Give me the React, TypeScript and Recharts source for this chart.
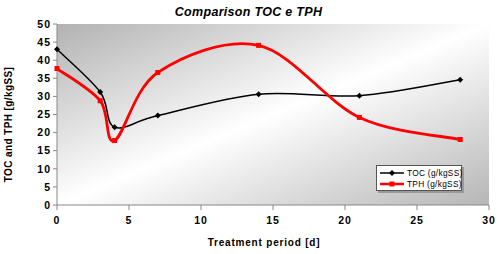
import { LineChart, Line, XAxis, YAxis, CartesianGrid, Legend, Label } from 'recharts'

const days = [0, 3, 4, 7, 14, 21, 28]
const toc = [43, 31.2, 21.5, 24.7, 30.6, 30.2, 34.6]
const tph = [37.7, 28.8, 17.8, 36.6, 44.1, 24.2, 18.1]
const xTicks = [0, 5, 10, 15, 20, 25, 30]
const yTicks = [0, 5, 10, 15, 20, 25, 30, 35, 40, 45, 50]

const data = days.map((d, i) => ({ d, toc: toc[i], tph: tph[i] }))

// Excel-like smoothing (uniform Catmull-Rom as bezier segments)
function excelSmooth(context: any) {
  let pts: number[][] = []
  return {
    areaStart() {},
    areaEnd() {},
    lineStart() {
      pts = []
    },
    point(x: number, y: number) {
      pts.push([+x, +y])
    },
    lineEnd() {
      if (!pts.length) return
      context.moveTo(pts[0][0], pts[0][1])
      for (let i = 0; i < pts.length - 1; i++) {
        const p0 = pts[i - 1] || pts[i]
        const p1 = pts[i]
        const p2 = pts[i + 1]
        const p3 = pts[i + 2] || p2
        context.bezierCurveTo(
          p1[0] + (p2[0] - p0[0]) / 6,
          p1[1] + (p2[1] - p0[1]) / 6,
          p2[0] - (p3[0] - p1[0]) / 6,
          p2[1] - (p3[1] - p1[1]) / 6,
          p2[0],
          p2[1]
        )
      }
    },
  }
}

const tickStyle = { fontFamily: 'Liberation Sans, Arial, sans-serif', fontSize: 10.5, fontWeight: 700, fill: '#000', letterSpacing: 1 }

const Diamond = (props: any) => {
  const { cx, cy, index } = props
  if (cx == null || cy == null) return null
  return <polygon key={index} points={`${cx},${cy - 3} ${cx + 3},${cy} ${cx},${cy + 3} ${cx - 3},${cy}`} fill="#000" />
}

const Square = (props: any) => {
  const { cx, cy, index } = props
  if (cx == null || cy == null) return null
  return <rect key={index} x={cx - 2.5} y={cy - 2.5} width={5} height={5} fill="#ff0000" />
}

function LegendBox() {
  const row = (label: string, color: string, w: number, marker: 'd' | 's') => (
    <div style={{ display: 'flex', alignItems: 'center', height: 11.5, whiteSpace: 'nowrap' }}>
      <svg width={26} height={8} style={{ flex: 'none' }}>
        <line x1={1} y1={4} x2={25} y2={4} stroke={color} strokeWidth={w} />
        {marker === 'd' ? (
          <polygon points="13,1 16,4 13,7 10,4" fill={color} />
        ) : (
          <rect x={10.5} y={1.5} width={5} height={5} fill={color} />
        )}
      </svg>
      <span style={{ marginLeft: 2, letterSpacing: 0.3, whiteSpace: 'nowrap' }}>{label}</span>
    </div>
  )
  return (
    <div
      style={{
        width: 86,
        height: 26,
        boxSizing: 'border-box',
        border: '1px solid #555',
        background: '#fff',
        boxShadow: '2px 2px 0 #9a9a9a',
        padding: '1px 0 0 2px',
        fontFamily: 'Liberation Sans, Arial, sans-serif',
        fontSize: 8.3,
        lineHeight: '10px',
        color: '#000',
        textAlign: 'left',
      }}
    >
      {row('TOC (g/kgSS)', '#000', 1.5, 'd')}
      {row('TPH (g/kgSS)', '#ff0000', 2.5, 's')}
    </div>
  )
}

export default function App() {
  return (
    <div style={{ position: 'absolute', left: 0, top: 0, width: 500, height: 254, background: '#fff' }}>
      <div
        style={{
          position: 'absolute',
          left: 0,
          top: 5,
          width: 497,
          textAlign: 'center',
          fontFamily: 'Liberation Sans, Arial, sans-serif',
          fontSize: 12.5,
          fontWeight: 700,
          fontStyle: 'italic',
          letterSpacing: 0.3,
        }}
      >
        Comparison TOC e TPH
      </div>
      <LineChart width={500} height={254} data={data} margin={{ top: 24, right: 11, left: 0, bottom: 0 }}>
        <defs>
          <linearGradient id="plotBg" x1="0" y1="0" x2="1" y2="1">
            <stop offset="0" stopColor="#b2b2b2" />
            <stop offset="0.5" stopColor="#ffffff" />
            <stop offset="1" stopColor="#b6b6b6" />
          </linearGradient>
        </defs>
        <CartesianGrid horizontal={false} vertical={false} fill="url(#plotBg)" stroke="none" />
        <XAxis
          dataKey="d"
          type="number"
          domain={[0, 30]}
          ticks={xTicks}
          height={49}
          stroke="#888"
          tickSize={5}
          tickMargin={7}
          tick={tickStyle}
          interval={0}
        >
          <Label
            value="Treatment period [d]"
            position="insideBottom"
            offset={8}
            dx={-9}
            style={{ fontFamily: 'Liberation Sans, Arial, sans-serif', fontSize: 10, fontWeight: 700, fill: '#000', letterSpacing: 0.8 }}
          />
        </XAxis>
        <YAxis
          type="number"
          domain={[0, 50]}
          ticks={yTicks}
          width={57}
          stroke="#888"
          tickSize={4}
          tickMargin={2}
          tick={tickStyle}
          interval={0}
        >
          <Label
            value="TOC and TPH [g/kgSS]"
            angle={-90}
            position="insideLeft"
            offset={8}
            dy={10}
            style={{ textAnchor: 'middle', fontFamily: 'Liberation Sans, Arial, sans-serif', fontSize: 10, fontWeight: 700, fill: '#000', letterSpacing: 0.4 }}
          />
        </YAxis>
        <Legend
          layout="horizontal"
          verticalAlign="middle"
          align="center"
          content={() => <LegendBox />}
          wrapperStyle={{ position: 'absolute', left: 376, top: 165, width: 90, height: 30 }}
        />
        <Line
          type={excelSmooth as any}
          dataKey="toc"
          name="TOC (g/kgSS)"
          stroke="#000"
          strokeWidth={1.5}
          dot={Diamond}
          activeDot={false}
          isAnimationActive={false}
        />
        <Line
          type={excelSmooth as any}
          dataKey="tph"
          name="TPH (g/kgSS)"
          stroke="#ff0000"
          strokeWidth={2.8}
          dot={Square}
          activeDot={false}
          isAnimationActive={false}
        />
      </LineChart>
    </div>
  )
}
